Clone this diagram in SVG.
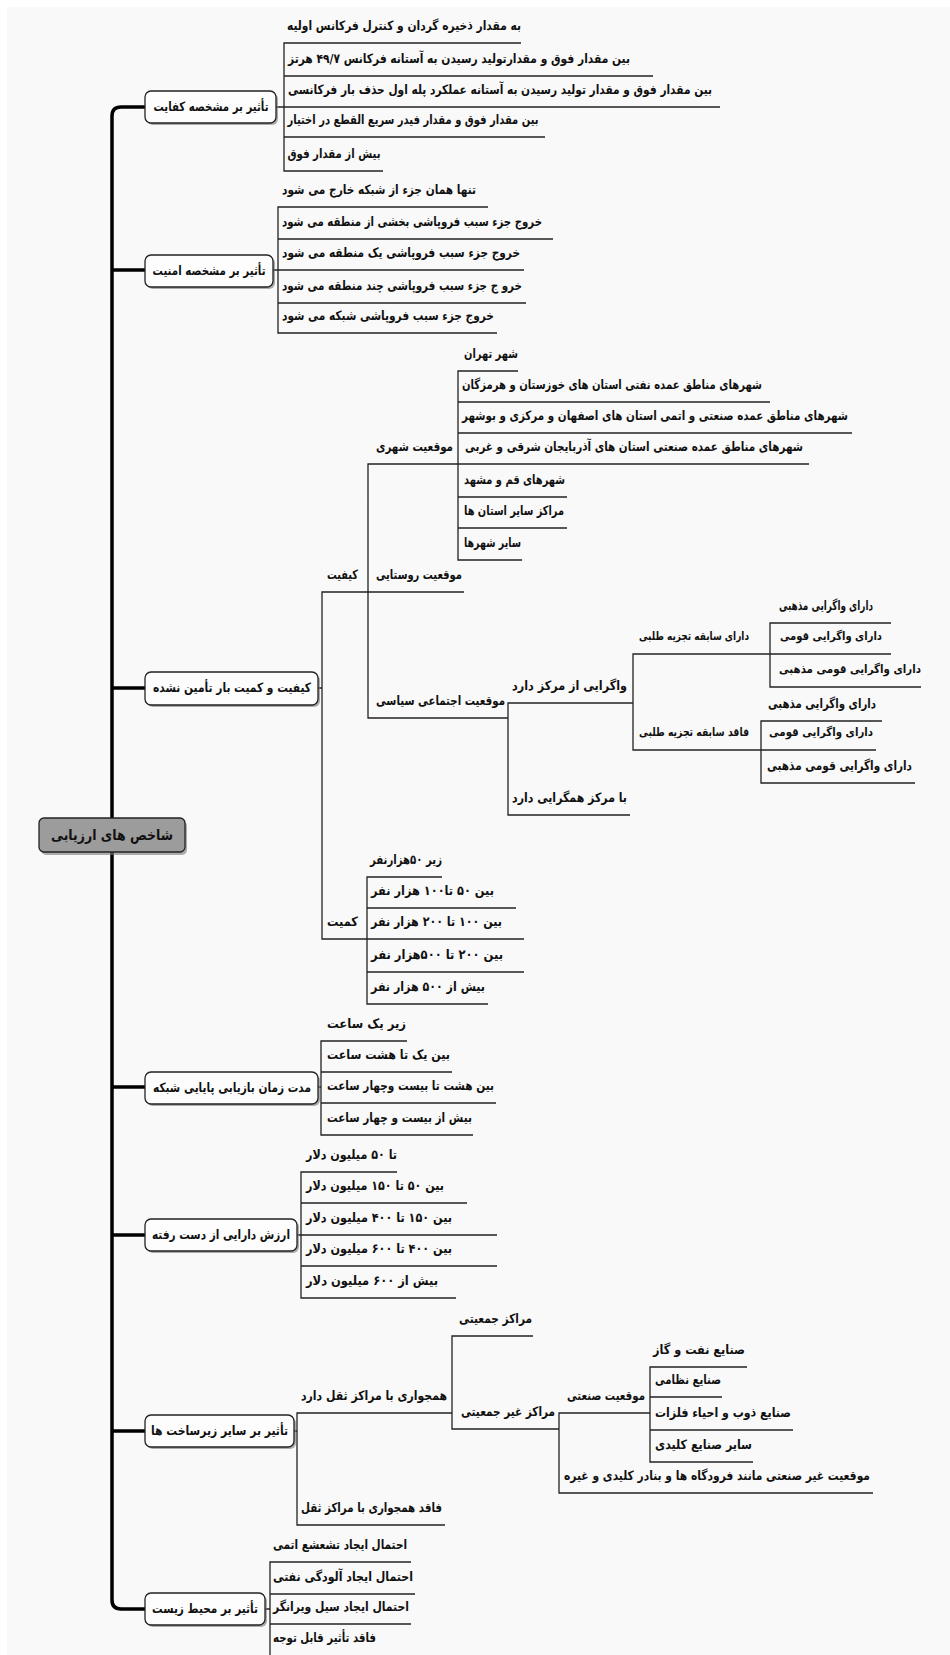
<svg xmlns="http://www.w3.org/2000/svg" width="950" height="1655" viewBox="0 0 950 1655">
<style>
.t{font-family:"DejaVu Sans",sans-serif;font-size:13px;font-weight:bold;fill:#111;text-anchor:middle;dominant-baseline:central;direction:rtl}
.s{font-size:11.5px}
.bt{font-family:"DejaVu Sans",sans-serif;font-size:13px;font-weight:bold;fill:#111;text-anchor:middle;dominant-baseline:central;direction:rtl}
.rt{font-family:"DejaVu Sans",sans-serif;font-size:14.5px;font-weight:bold;fill:#111;text-anchor:middle;dominant-baseline:central;direction:rtl}
.box{fill:#fdfdfd;stroke:#222;stroke-width:1.3}
.root{fill:#9c9c9c;stroke:#222;stroke-width:1.3}
.sh{fill:#777;opacity:.6}
.c{fill:none;stroke:#222;stroke-width:1.3}
.sp{fill:none;stroke:#000;stroke-width:3.5}
</style>
<rect x="0" y="0" width="950" height="1655" fill="#ffffff"/>
<rect x="7" y="7" width="943" height="1648" fill="#f9f9f9"/>

<g id="connectors">
<path class="sp" d="M145,107 H121 Q112,107 112,116 V1600 Q112,1609 121,1609 H145 M112,270 H145 M112,688 H145 M112,1087 H145 M112,1235 H145 M112,1431 H145"/>
<path class="c" d="M521,43 H284 V171 H383 M284,76 H653 M276,107 H720 M284,137 H545"/>
<path class="c" d="M488,207 H278 V333 H497 M278,239 H553 M273,270 H524 M278,303 H526"/>
<path class="c" d="M318,688 H322 M464,592 H322 V939 H524 M809,464 H368 V718 H508 M518,371 H458 V560 H522 M458,402 H770 M458,433 H852 M458,497 H567 M458,528 H567 M633,703 H508 V815 H630 M891,654 H633 V750 H876 M891,623 H770 V687 H921 M882,721 H761 V783 H915 M442,877 H367 V1004 H488 M367,908 H516 M367,972 H524"/>
<path class="c" d="M318,1087 H321 M407,1041 H321 V1135 H473 M321,1072 H452 M321,1103 H496"/>
<path class="c" d="M297,1235 H301 M397,1172 H301 V1298 H456 M301,1203 H467 M301,1235 H497 M301,1266 H497"/>
<path class="c" d="M294,1431 H297 M452,1413 H297 V1525 H445 M533,1336 H452 V1429 H559 M650,1413 H559 V1493 H873 M747,1367 H650 V1462 H753 M650,1397 H722 M650,1430 H793"/>
<path class="c" d="M265,1609 H270 M411,1562 H270 V1655 M270,1594 H415 M270,1624 H411"/>
</g>

<g id="root">
<rect class="sh" x="41" y="821" width="146" height="34" rx="5"/>
<rect class="root" x="39" y="818" width="146" height="34" rx="5"/>
<text class="rt" x="112" y="835" textLength="122" lengthAdjust="spacingAndGlyphs">شاخص های ارزیابی</text>
</g>

<g id="b1">
<rect class="sh" x="147" y="93" width="131" height="32" rx="6"/>
<rect class="box" x="145" y="91" width="131" height="32" rx="6"/>
<text class="bt" x="211" y="106" textLength="115" lengthAdjust="spacingAndGlyphs">تأثیر بر مشخصه کفایت</text>
</g>
<g id="b1-1"><text class="t" x="404" y="25" textLength="234" lengthAdjust="spacingAndGlyphs">به مقدار ذخیره گردان و کنترل فرکانس اولیه</text></g>
<g id="b1-2"><text class="t" x="459" y="58" textLength="342" lengthAdjust="spacingAndGlyphs">بین مقدار فوق و مقدارتولید رسیدن به آستانه فرکانس ۴۹/۷ هرتز</text></g>
<g id="b1-3"><text class="t" x="500" y="89" textLength="424" lengthAdjust="spacingAndGlyphs">بین مقدار فوق و  مقدار تولید رسیدن به آستانه عملکرد پله اول حذف بار فرکانسی</text></g>
<g id="b1-4"><text class="t" x="413" y="119" textLength="251" lengthAdjust="spacingAndGlyphs">بین مقدار فوق و مقدار فیدر سریع القطع در اختیار</text></g>
<g id="b1-5"><text class="t" x="334" y="153" textLength="93" lengthAdjust="spacingAndGlyphs">بیش از مقدار فوق</text></g>

<g id="b2">
<rect class="sh" x="147" y="257" width="128" height="32" rx="6"/>
<rect class="box" x="145" y="255" width="128" height="32" rx="6"/>
<text class="bt" x="209" y="270" textLength="113" lengthAdjust="spacingAndGlyphs">تأثیر بر مشخصه امنیت</text>
</g>
<g id="b2-1"><text class="t" x="379" y="189" textLength="194" lengthAdjust="spacingAndGlyphs">تنها همان جزء از شبکه خارج می شود</text></g>
<g id="b2-2"><text class="t" x="412" y="221" textLength="260" lengthAdjust="spacingAndGlyphs">خروج جزء سبب فروپاشی بخشی از منطقه می شود</text></g>
<g id="b2-3"><text class="t" x="401" y="252" textLength="238" lengthAdjust="spacingAndGlyphs">خروج جزء سبب فروپاشی یک منطقه می شود</text></g>
<g id="b2-4"><text class="t" x="402" y="285" textLength="240" lengthAdjust="spacingAndGlyphs">خرو ج جزء سبب فروپاشی چند منطقه می شود</text></g>
<g id="b2-5"><text class="t" x="388" y="315" textLength="212" lengthAdjust="spacingAndGlyphs">خروج جزء سبب فروپاشی شبکه می شود</text></g>

<g id="b3">
<rect class="sh" x="147" y="674" width="173" height="33" rx="6"/>
<rect class="box" x="145" y="672" width="173" height="33" rx="6"/>
<text class="bt" x="232" y="687.5" textLength="158" lengthAdjust="spacingAndGlyphs">کیفیت و کمیت بار تأمین نشده</text>
</g>
<g id="q"><text class="t" x="342.5" y="574" textLength="31" lengthAdjust="spacingAndGlyphs">کیفیت</text></g>
<g id="q-city"><text class="t" x="414.5" y="446" textLength="77" lengthAdjust="spacingAndGlyphs">موقعیت شهری</text></g>
<g id="city-1"><text class="t" x="491" y="353" textLength="54" lengthAdjust="spacingAndGlyphs">شهر تهران</text></g>
<g id="city-2"><text class="t" x="612" y="384" textLength="300" lengthAdjust="spacingAndGlyphs">شهرهای مناطق عمده نفتی استان های خوزستان و هرمزگان</text></g>
<g id="city-3"><text class="t" x="655" y="415" textLength="386" lengthAdjust="spacingAndGlyphs">شهرهای  مناطق عمده صنعتی و اتمی استان های اصفهان و مرکزی و بوشهر</text></g>
<g id="city-4"><text class="t" x="634" y="446" textLength="338" lengthAdjust="spacingAndGlyphs">شهرهای  مناطق عمده صنعتی  استان های آذربایجان شرقی و غربی</text></g>
<g id="city-5"><text class="t" x="514.5" y="479" textLength="101" lengthAdjust="spacingAndGlyphs">شهرهای قم و مشهد</text></g>
<g id="city-6"><text class="t" x="514" y="510" textLength="100" lengthAdjust="spacingAndGlyphs">مراکز سایر استان ها</text></g>
<g id="city-7"><text class="t" x="492.5" y="542" textLength="57" lengthAdjust="spacingAndGlyphs">سایر شهرها</text></g>
<g id="q-rural"><text class="t" x="419" y="574" textLength="86" lengthAdjust="spacingAndGlyphs">موقعیت روستایی</text></g>
<g id="q-social"><text class="t" x="440.5" y="700" textLength="129" lengthAdjust="spacingAndGlyphs">موقعیت اجتماعی سیاسی</text></g>
<g id="soc-div"><text class="t" x="569.5" y="685" textLength="115" lengthAdjust="spacingAndGlyphs">واگرایی از مرکز دارد</text></g>
<g id="div-has"><text class="t s" x="694" y="636" textLength="110" lengthAdjust="spacingAndGlyphs">دارای سابقه تجزیه طلبی</text></g>
<g id="has-1"><text class="t" x="826" y="605" textLength="94" lengthAdjust="spacingAndGlyphs">دارای واگرایی مذهبی</text></g>
<g id="has-2"><text class="t s" x="831" y="636" textLength="102" lengthAdjust="spacingAndGlyphs">دارای واگرایی قومی</text></g>
<g id="has-3"><text class="t s" x="850" y="669" textLength="142" lengthAdjust="spacingAndGlyphs">دارای واگرایی قومی مذهبی</text></g>
<g id="div-not"><text class="t s" x="694" y="732" textLength="110" lengthAdjust="spacingAndGlyphs">فاقد سابقه تجزیه طلبی</text></g>
<g id="not-1"><text class="t" x="822" y="703" textLength="108" lengthAdjust="spacingAndGlyphs">دارای واگرایی مذهبی</text></g>
<g id="not-2"><text class="t s" x="821" y="732" textLength="104" lengthAdjust="spacingAndGlyphs">دارای واگرایی قومی</text></g>
<g id="not-3"><text class="t" x="839.5" y="765" textLength="145" lengthAdjust="spacingAndGlyphs">دارای واگرایی قومی مذهبی</text></g>
<g id="soc-conv"><text class="t" x="569.5" y="797" textLength="115" lengthAdjust="spacingAndGlyphs">با مرکز همگرایی دارد</text></g>
<g id="k"><text class="t" x="342.5" y="921" textLength="31" lengthAdjust="spacingAndGlyphs">کمیت</text></g>
<g id="k-1"><text class="t" x="406" y="859" textLength="72" lengthAdjust="spacingAndGlyphs">زیر ۵۰هزارنفر</text></g>
<g id="k-2"><text class="t" x="432.5" y="890" textLength="123" lengthAdjust="spacingAndGlyphs">بین ۵۰  تا۱۰۰ هزار نفر</text></g>
<g id="k-3"><text class="t" x="436.5" y="921" textLength="131" lengthAdjust="spacingAndGlyphs">بین ۱۰۰ تا ۲۰۰ هزار نفر</text></g>
<g id="k-4"><text class="t" x="437" y="954" textLength="132" lengthAdjust="spacingAndGlyphs">بین ۲۰۰ تا ۵۰۰هزار نفر</text></g>
<g id="k-5"><text class="t" x="428" y="986" textLength="114" lengthAdjust="spacingAndGlyphs">بیش از ۵۰۰  هزار نفر</text></g>

<g id="b4">
<rect class="sh" x="147" y="1074" width="173" height="32" rx="6"/>
<rect class="box" x="145" y="1072" width="173" height="32" rx="6"/>
<text class="bt" x="232" y="1087" textLength="158" lengthAdjust="spacingAndGlyphs">مدت زمان بازیابی پایایی شبکه</text>
</g>
<g id="b4-1"><text class="t" x="366.5" y="1023" textLength="79" lengthAdjust="spacingAndGlyphs">زیر یک ساعت</text></g>
<g id="b4-2"><text class="t" x="388.5" y="1054" textLength="123" lengthAdjust="spacingAndGlyphs">بین یک تا هشت ساعت</text></g>
<g id="b4-3"><text class="t" x="410.5" y="1085" textLength="167" lengthAdjust="spacingAndGlyphs">بین هشت تا بیست وچهار ساعت</text></g>
<g id="b4-4"><text class="t" x="399.5" y="1117" textLength="145" lengthAdjust="spacingAndGlyphs">بیش از بیست و چهار ساعت</text></g>

<g id="b5">
<rect class="sh" x="147" y="1221" width="152" height="32" rx="6"/>
<rect class="box" x="145" y="1219" width="152" height="32" rx="6"/>
<text class="bt" x="221" y="1234" textLength="138" lengthAdjust="spacingAndGlyphs">ارزش دارایی از دست رفته</text>
</g>
<g id="b5-1"><text class="t" x="351.5" y="1154" textLength="91" lengthAdjust="spacingAndGlyphs">تا ۵۰ میلیون دلار</text></g>
<g id="b5-2"><text class="t" x="375" y="1185" textLength="138" lengthAdjust="spacingAndGlyphs">بین ۵۰ تا ۱۵۰ میلیون دلار</text></g>
<g id="b5-3"><text class="t" x="379" y="1217" textLength="146" lengthAdjust="spacingAndGlyphs">بین ۱۵۰ تا ۴۰۰ میلیون دلار</text></g>
<g id="b5-4"><text class="t" x="379" y="1248" textLength="146" lengthAdjust="spacingAndGlyphs">بین ۴۰۰ تا ۶۰۰ میلیون دلار</text></g>
<g id="b5-5"><text class="t" x="372" y="1280" textLength="132" lengthAdjust="spacingAndGlyphs">بیش از ۶۰۰ میلیون دلار</text></g>

<g id="b6">
<rect class="sh" x="147" y="1417" width="149" height="32" rx="6"/>
<rect class="box" x="145" y="1415" width="149" height="32" rx="6"/>
<text class="bt" x="219.5" y="1430" textLength="137" lengthAdjust="spacingAndGlyphs">تأثیر بر سایر زیرساخت ها</text>
</g>
<g id="b6-1"><text class="t" x="374" y="1395" textLength="146" lengthAdjust="spacingAndGlyphs">همجواری با مراکز ثقل دارد</text></g>
<g id="b6-1-1"><text class="t" x="495.5" y="1318" textLength="73" lengthAdjust="spacingAndGlyphs">مراکز جمعیتی</text></g>
<g id="b6-1-2"><text class="t" x="508" y="1411" textLength="94" lengthAdjust="spacingAndGlyphs">مراکز غیر جمعیتی</text></g>
<g id="ind"><text class="t" x="606" y="1395" textLength="78" lengthAdjust="spacingAndGlyphs">موقعیت صنعتی</text></g>
<g id="ind-1"><text class="t" x="699" y="1349" textLength="92" lengthAdjust="spacingAndGlyphs">صنایع نفت و گاز</text></g>
<g id="ind-2"><text class="t" x="688" y="1379" textLength="66" lengthAdjust="spacingAndGlyphs">صنایع نظامی</text></g>
<g id="ind-3"><text class="t" x="723" y="1412" textLength="136" lengthAdjust="spacingAndGlyphs">صنایع ذوب و احیاء فلزات</text></g>
<g id="ind-4"><text class="t" x="703.5" y="1444" textLength="97" lengthAdjust="spacingAndGlyphs">سایر صنایع کلیدی</text></g>
<g id="nonind"><text class="t" x="717" y="1475" textLength="306" lengthAdjust="spacingAndGlyphs">موقعیت غیر صنعتی مانند  فرودگاه ها و بنادر کلیدی و غیره</text></g>
<g id="b6-2"><text class="t" x="371.5" y="1507" textLength="141" lengthAdjust="spacingAndGlyphs">فاقد همجواری با مراکز ثقل</text></g>

<g id="b7">
<rect class="sh" x="147" y="1595" width="120" height="32" rx="6"/>
<rect class="box" x="145" y="1593" width="120" height="32" rx="6"/>
<text class="bt" x="205" y="1608" textLength="106" lengthAdjust="spacingAndGlyphs">تأثیر بر محیط زیست</text>
</g>
<g id="b7-1"><text class="t" x="340" y="1544" textLength="134" lengthAdjust="spacingAndGlyphs">احتمال ایجاد تشعشع اتمی</text></g>
<g id="b7-2"><text class="t" x="343" y="1576" textLength="140" lengthAdjust="spacingAndGlyphs">احتمال ایجاد آلودگی نفتی</text></g>
<g id="b7-3"><text class="t" x="341" y="1606" textLength="136" lengthAdjust="spacingAndGlyphs">احتمال ایجاد سیل ویرانگر</text></g>
<g id="b7-4"><text class="t" x="324.5" y="1637" textLength="103" lengthAdjust="spacingAndGlyphs">فاقد تأثیر قابل توجه</text></g>
</svg>
